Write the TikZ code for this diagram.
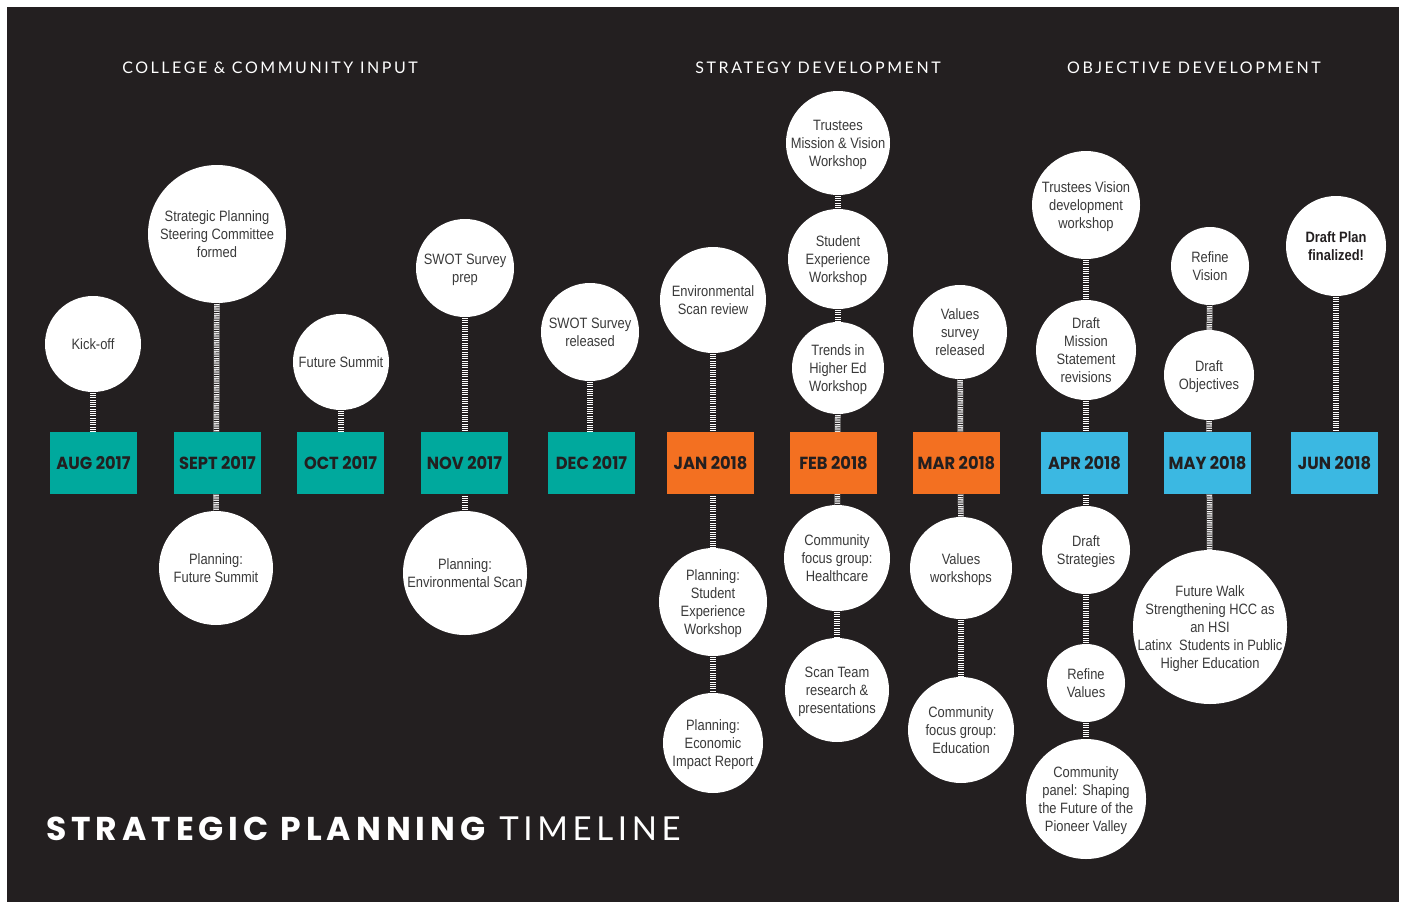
\documentclass[tikz,border=0pt]{standalone}
\usepackage{fontspec}
\setmainfont{Liberation Sans}
\newfontfamily\circfont[FakeStretch=0.86]{Liberation Sans}
\newfontfamily\geo{Lato}
\newfontfamily\geob[FakeStretch=0.93]{Poppins}
\newfontfamily\geot{Poppins}
\definecolor{bgdark}{HTML}{231F20}
\definecolor{tealc}{HTML}{00A99D}
\definecolor{orng}{HTML}{F37021}
\definecolor{sky}{HTML}{3BB8E2}
\definecolor{txt}{HTML}{3A3A3A}
\pgfdeclarelayer{back}
\pgfdeclarelayer{mid}
\pgfsetlayers{back,mid,main}
\begin{document}
\begin{tikzpicture}[x=1pt,y=-1pt,
  circ/.style={circle, fill=white, inner sep=-30pt, minimum size=2*#1pt, text=txt, align=center,
    text depth=0pt, font=\circfont\fontsize{15}{18}\selectfont},
  month/.style={rectangle, fill=#1, minimum width=87pt, minimum height=62pt, inner sep=0pt,
    text=bgdark, font=\geob\bfseries\fontsize{17.5}{18}\selectfont},
  conn/.style={line width=5.5pt, draw=white, postaction={draw=bgdark, line width=5.5pt, dash pattern=on 0.7pt off 1.1pt}},
  head/.style={text=white, font=\geo\addfontfeature{LetterSpace=16}\fontsize{16}{18}\selectfont}
]
\begin{pgfonlayer}{back}
  \fill[white] (0,0) rectangle (1403,902);
  \fill[bgdark] (7,7) rectangle (1399,902);
\end{pgfonlayer}
\useasboundingbox (0,0) rectangle (1403,902);

% headings
\node[head] (h1) at (270,68) {COLLEGE \& COMMUNITY INPUT};
\node[head] (h2) at (818,68) {STRATEGY DEVELOPMENT};
\node[head] (h3) at (1194,68) {OBJECTIVE DEVELOPMENT};

% months
\node[month=tealc] (aug) at (93.5,463) {AUG 2017};
\node[month=tealc] (sep) at (217.5,463) {SEPT 2017};
\node[month=tealc] (oct) at (340.5,463) {OCT 2017};
\node[month=tealc] (nov) at (464.5,463) {NOV 2017};
\node[month=tealc] (dec) at (591.5,463) {DEC 2017};
\node[month=orng] (jan) at (710.5,463) {JAN 2018};
\node[month=orng] (feb) at (833.5,463) {FEB 2018};
\node[month=orng] (mar) at (956.5,463) {MAR 2018};
\node[month=sky] (apr) at (1084.5,463) {APR 2018};
\node[month=sky] (may) at (1207.5,463) {MAY 2018};
\node[month=sky] (jun) at (1334.5,463) {JUN 2018};

% circles above
\node[circ=48] (kick) at (93,344) {Kick-off};
\node[circ=69] (strat) at (217,234) {Strategic Planning\\Steering Committee\\formed};
\node[circ=48] (fsum) at (341,362) {Future Summit};
\node[circ=49] (swotp) at (465,268) {SWOT Survey\\prep};
\node[circ=49] (swotr) at (590,332) {SWOT Survey\\released};
\node[circ=53] (env) at (713,300) {Environmental\\Scan review};
\node[circ=52] (trust) at (838,143) {Trustees\\Mission \& Vision\\Workshop};
\node[circ=50] (stud) at (838,259) {Student\\Experience\\Workshop};
\node[circ=46] (trend) at (838,368) {Trends in\\Higher Ed\\Workshop};
\node[circ=47] (vsurv) at (960,332) {Values\\survey\\released};
\node[circ=54] (tvis) at (1086,205) {Trustees Vision\\development\\workshop};
\node[circ=50] (dmis) at (1086,350) {Draft\\Mission\\Statement\\revisions};
\node[circ=39] (rvis) at (1210,266) {Refine\\Vision};
\node[circ=45] (dobj) at (1209,375) {Draft\\Objectives};
\node[circ=50, font=\circfont\bfseries\fontsize{15}{18}\selectfont, text=bgdark] (dplan) at (1336,246) {Draft Plan\\finalized!};

% circles below
\node[circ=57] (pfs) at (216,568) {Planning:\\Future Summit};
\node[circ=62] (penv) at (465,573) {Planning:\\Environmental Scan};
\node[circ=54] (pstud) at (713,602) {Planning:\\Student\\Experience\\Workshop};
\node[circ=50] (pecon) at (713,743) {Planning:\\Economic\\Impact Report};
\node[circ=53] (cfh) at (837,558) {Community\\focus group:\\Healthcare};
\node[circ=52] (scan) at (837,690) {Scan Team\\research \&\\presentations};
\node[circ=51] (vwork) at (961,568) {Values\\workshops};
\node[circ=53] (cfe) at (961,730) {Community\\focus group:\\Education};
\node[circ=44] (dstr) at (1086,550) {Draft\\Strategies};
\node[circ=39] (rval) at (1086,683) {Refine\\Values};
\node[circ=60] (cpan) at (1086,799) {Community\\panel: Shaping\\the Future of the\\Pioneer Valley};
\node[circ=77] (fwalk) at (1210,627) {Future Walk\\Strengthening HCC as\\an HSI\\Latinx\ \ Students in Public\\Higher Education};

% title
\node[anchor=west, text=white, inner sep=0pt, font=\fontsize{33}{36}\selectfont] (title) at (46,829)
  {{\geot\bfseries\addfontfeature{LetterSpace=15}STRATEGIC PLANNING}\hspace{14pt}{\geo\addfontfeature{LetterSpace=14}TIMELINE}};

% connectors
\begin{pgfonlayer}{mid}
  \draw[conn] (kick) -- (kick |- aug);
  \draw[conn] (strat) -- (pfs);
  \draw[conn] (fsum) -- (fsum |- oct);
  \draw[conn] (swotp) -- (penv);
  \draw[conn] (swotr) -- (swotr |- dec);
  \draw[conn] (env) -- (pstud);
  \draw[conn] (pstud) -- (pecon);
  \draw[conn] (trust) -- (stud);
  \draw[conn] (stud) -- (trend);
  \draw[conn] (trend) -- (cfh);
  \draw[conn] (cfh) -- (scan);
  \draw[conn] (vsurv) -- (vwork);
  \draw[conn] (vwork) -- (cfe);
  \draw[conn] (tvis) -- (dmis);
  \draw[conn] (dmis) -- (dstr);
  \draw[conn] (dstr) -- (rval);
  \draw[conn] (rval) -- (cpan);
  \draw[conn] (rvis) -- (dobj);
  \draw[conn] (dobj) -- (fwalk);
  \draw[conn] (dplan) -- (dplan |- jun);
\end{pgfonlayer}
\end{tikzpicture}
\end{document}
